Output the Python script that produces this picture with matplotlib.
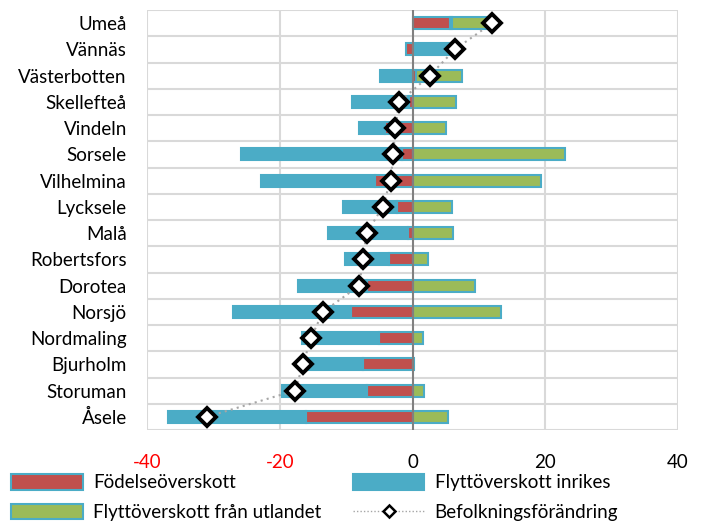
import matplotlib
matplotlib.use('Agg')
import matplotlib.pyplot as plt
import numpy as np
from matplotlib.lines import Line2D
from matplotlib.patches import Patch

plt.rcParams['font.family'] = ['Lato', 'DejaVu Sans']

# Kommuner, uppifrån och ned
kommuner = ['Umeå', 'Vännäs', 'Västerbotten', 'Skellefteå', 'Vindeln', 'Sorsele',
            'Vilhelmina', 'Lycksele', 'Malå', 'Robertsfors', 'Dorotea', 'Norsjö',
            'Nordmaling', 'Bjurholm', 'Storuman', 'Åsele']
fodelse = [5.6, -1.0, 0.6, -0.6, -4.2, -1.6, -5.6, -2.3, -0.7, -3.5, -6.8, -9.3,
           -5.0, -7.4, -6.8, -16.1]
inrikes = [0.3, 6.2, -4.9, -8.5, -3.8, -24.2, -17.2, -8.1, -12.1, -6.6, -10.5, -17.7,
           -11.7, -9.2, -12.9, -20.8]
utland = [5.4, 0.0, 6.9, 6.6, 5.1, 23.0, 19.3, 6.0, 6.1, 2.4, 9.4, 13.3,
          1.6, 0.3, 1.8, 5.4]
forandring = [12.0, 6.4, 2.6, -2.0, -2.6, -2.9, -3.3, -4.5, -6.9, -7.5, -8.0, -13.5,
              -15.3, -16.5, -17.7, -31.0]

xticks = [-40, -20, 0, 20, 40]

c_red = '#C0504D'
c_blue = '#4BACC6'
c_green = '#9BBB59'

fig = plt.figure(figsize=(7.01, 5.23), dpi=100)
ax = fig.add_axes([147 / 701, 1 - 430 / 523, (678 - 147) / 701, (430 - 10) / 523])

n = len(kommuner)
y = np.arange(n)
pos = np.zeros(n)
neg = np.zeros(n)
for vals, col in [(fodelse, c_red), (inrikes, c_blue), (utland, c_green)]:
    vals = np.array(vals)
    left = np.where(vals >= 0, pos, neg)
    ax.barh(y, vals, left=left, height=0.45, color=col, edgecolor=c_blue,
            linewidth=1.5, zorder=3)
    pos = pos + np.where(vals >= 0, vals, 0)
    neg = neg + np.where(vals < 0, vals, 0)

ax.plot(forandring, y, linestyle=(0, (1, 2)), color='#A6A6A6', linewidth=1.5,
        marker='D', markersize=9, markerfacecolor='white', markeredgecolor='black',
        markeredgewidth=2.8, zorder=5)

ax.set_xlim(-40, 40)
ax.set_ylim(n - 0.5, -0.5)
ax.set_xticks(xticks)
ax.set_xticklabels([str(t) for t in xticks], fontsize=13.5)
for lbl, t in zip(ax.get_xticklabels(), xticks):
    if t < 0:
        lbl.set_color('red')
ax.set_yticks(y)
ax.set_yticklabels(kommuner, fontsize=13.5)
ax.tick_params(axis='both', length=0)
ax.tick_params(axis='y', pad=14.5)
ax.tick_params(axis='x', pad=17)

# rutnät
for b in np.arange(-0.5, n, 1):
    ax.axhline(b, color='#D9D9D9', linewidth=1.5, zorder=1)
for t in xticks:
    ax.axvline(t, color='#808080' if t == 0 else '#D9D9D9', linewidth=1.5,
               zorder=4 if t == 0 else 1)
for s in ax.spines.values():
    s.set_visible(False)

handles = [
    Patch(facecolor=c_red, edgecolor=c_blue, linewidth=1.5, label='Födelseöverskott'),
    Patch(facecolor=c_green, edgecolor=c_blue, linewidth=1.5, label='Flyttöverskott från utlandet'),
    Patch(facecolor=c_blue, edgecolor=c_blue, linewidth=1.5, label='Flyttöverskott inrikes'),
    Line2D([0], [0], linestyle=(0, (1, 1.5)), color='#A6A6A6', linewidth=1,
           marker='D', markersize=6, markerfacecolor='white', markeredgecolor='black',
           markeredgewidth=1.8, label='Befolkningsförändring'),
]
fig.legend(handles=handles, loc='lower left', bbox_to_anchor=(-0.008, -0.028), ncol=2,
           frameon=False, fontsize=13.5, handlelength=3.8, handleheight=0.9,
           columnspacing=1.7, labelspacing=0.65, handletextpad=0.55)

plt.savefig('out.png', dpi=100)
